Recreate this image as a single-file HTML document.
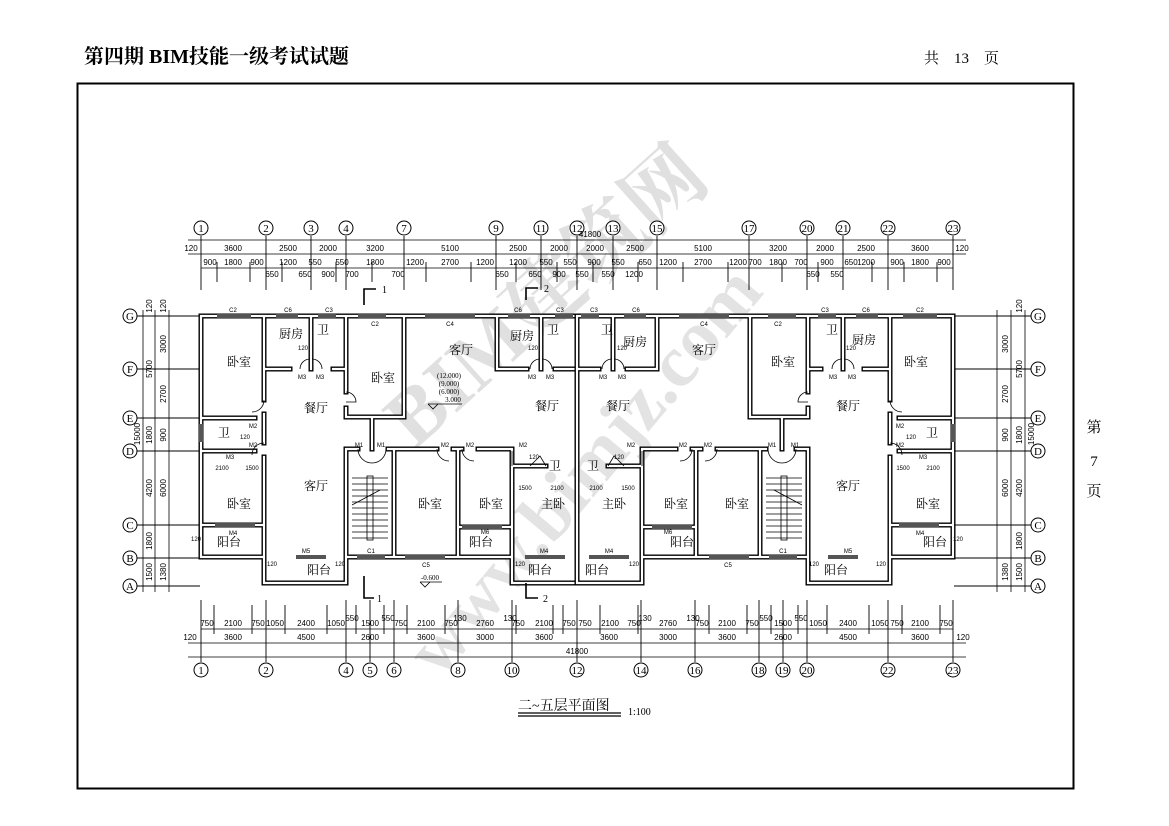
<!DOCTYPE html>
<html><head><meta charset="utf-8"><style>
body{margin:0;background:#fff;}
svg{display:block;}
text{font-family:"Liberation Serif","Noto Serif CJK SC",serif;fill:#000;}
.r{font-size:12px;text-anchor:middle;}
.d{font-size:8px;text-anchor:middle;font-family:"Liberation Sans",sans-serif;}
.s{font-size:6px;text-anchor:middle;font-family:"Liberation Sans",sans-serif;}
.ax{font-size:11px;text-anchor:middle;font-family:"Liberation Serif",serif;}
</style></head><body>
<svg width="1169" height="826" viewBox="0 0 1169 826" xmlns="http://www.w3.org/2000/svg">
<rect width="1169" height="826" fill="#fff"/>
<!-- watermark -->
<g font-family="Liberation Sans,'Noto Sans CJK SC',sans-serif" font-weight="bold">
<text x="0" y="0" font-size="80" transform="translate(415,450) rotate(-42)" style="fill:#e0e0e0">BIM建筑网</text>
<text x="0" y="0" font-size="74" transform="translate(440,680) rotate(-50)" style="fill:#e3e3e3">www.bimjz.com</text>
</g>
<text x="84" y="63" font-size="20" font-weight="bold" style="font-family:'Liberation Serif','Noto Serif CJK SC',serif">第四期 BIM技能一级考试试题</text>
<text x="924" y="63" font-size="15">共　13　页</text>
<rect x="77.5" y="83.5" width="996" height="705" fill="none" stroke="#000" stroke-width="2"/>
<text x="1094" y="432" font-size="15" text-anchor="middle">第</text>
<text x="1094" y="466" font-size="15" text-anchor="middle">7</text>
<text x="1094" y="496" font-size="15" text-anchor="middle">页</text>

<g stroke="#000" stroke-width="0.8" fill="none">
<line x1="188" y1="240" x2="966" y2="240"/>
<line x1="188" y1="254" x2="966" y2="254"/>
<line x1="201" y1="268" x2="953" y2="268"/>
<line x1="188" y1="643" x2="966" y2="643"/>
<line x1="201" y1="629" x2="953" y2="629"/>
<line x1="188" y1="657" x2="966" y2="657"/>
<line x1="143" y1="310" x2="143" y2="592"/>
<line x1="155" y1="310" x2="155" y2="592"/>
<line x1="169" y1="310" x2="169" y2="592"/>
<line x1="1011" y1="310" x2="1011" y2="592"/>
<line x1="997" y1="310" x2="997" y2="592"/>
<line x1="1025" y1="310" x2="1025" y2="592"/>
</g>
<g stroke="#000" stroke-width="0.9">
<path d="M201 236V290M266 236V290M311 236V290M346 236V290M404 236V290M496 236V290M541 236V290M577 236V290M613 236V290M657 236V290M749 236V290M807 236V290M843 236V290M888 236V290M953 236V290"/>
<path d="M217 262V282M250 262V282M282 262V282M336 262V282M372 262V282M426 262V282M471 262V282M516 262V282M557 262V282M593 262V282M638 262V282M683 262V282M728 262V282M782 262V282M818 262V282M872 262V282M904 262V282M937 262V282"/>
<path d="M201 600V662M266 600V662M346 600V662M370 600V662M394 600V662M458 600V662M512 600V662M577 600V662M641 600V662M695 600V662M759 600V662M783 600V662M807 600V662M888 600V662M953 600V662"/>
<path d="M214 605V634M252 605V634M285 605V634M327 605V634M356 605V634M384 605V634M407 605V634M445 605V634M516 605V634M553 605V634M563 605V634M600 605V634M638 605V634M709 605V634M747 605V634M771 605V634M798 605V634M827 605V634M869 605V634M902 605V634M940 605V634"/>
<path d="M137 316H200M137 369H200M137 418H200M137 451H200M137 525H200M137 558H200M137 586H200"/>
<path d="M954 316H1031M954 369H1031M954 418H1031M954 451H1031M954 525H1031M954 558H1031M954 586H1031"/>
</g>
<g fill="#fff" stroke="#000" stroke-width="1">
<circle cx="201" cy="228" r="7"/><circle cx="266" cy="228" r="7"/><circle cx="311" cy="228" r="7"/><circle cx="346" cy="228" r="7"/><circle cx="404" cy="228" r="7"/><circle cx="496" cy="228" r="7"/><circle cx="541" cy="228" r="7"/><circle cx="577" cy="228" r="7"/><circle cx="613" cy="228" r="7"/><circle cx="657" cy="228" r="7"/><circle cx="749" cy="228" r="7"/><circle cx="807" cy="228" r="7"/><circle cx="843" cy="228" r="7"/><circle cx="888" cy="228" r="7"/><circle cx="953" cy="228" r="7"/>
<circle cx="201" cy="670" r="7"/><circle cx="266" cy="670" r="7"/><circle cx="346" cy="670" r="7"/><circle cx="370" cy="670" r="7"/><circle cx="394" cy="670" r="7"/><circle cx="458" cy="670" r="7"/><circle cx="512" cy="670" r="7"/><circle cx="577" cy="670" r="7"/><circle cx="641" cy="670" r="7"/><circle cx="695" cy="670" r="7"/><circle cx="759" cy="670" r="7"/><circle cx="783" cy="670" r="7"/><circle cx="807" cy="670" r="7"/><circle cx="888" cy="670" r="7"/><circle cx="953" cy="670" r="7"/>
<circle cx="130" cy="316" r="7"/><circle cx="130" cy="369" r="7"/><circle cx="130" cy="418" r="7"/><circle cx="130" cy="451" r="7"/><circle cx="130" cy="525" r="7"/><circle cx="130" cy="558" r="7"/><circle cx="130" cy="586" r="7"/>
<circle cx="1038" cy="316" r="7"/><circle cx="1038" cy="369" r="7"/><circle cx="1038" cy="418" r="7"/><circle cx="1038" cy="451" r="7"/><circle cx="1038" cy="525" r="7"/><circle cx="1038" cy="558" r="7"/><circle cx="1038" cy="586" r="7"/>
</g>
<g>
<text class="ax" x="201" y="232">1</text><text class="ax" x="266" y="232">2</text><text class="ax" x="311" y="232">3</text><text class="ax" x="346" y="232">4</text><text class="ax" x="404" y="232">7</text><text class="ax" x="496" y="232">9</text><text class="ax" x="541" y="232">11</text><text class="ax" x="577" y="232">12</text><text class="ax" x="613" y="232">13</text><text class="ax" x="657" y="232">15</text><text class="ax" x="749" y="232">17</text><text class="ax" x="807" y="232">20</text><text class="ax" x="843" y="232">21</text><text class="ax" x="888" y="232">22</text><text class="ax" x="953" y="232">23</text>
<text class="ax" x="201" y="674">1</text><text class="ax" x="266" y="674">2</text><text class="ax" x="346" y="674">4</text><text class="ax" x="370" y="674">5</text><text class="ax" x="394" y="674">6</text><text class="ax" x="458" y="674">8</text><text class="ax" x="512" y="674">10</text><text class="ax" x="577" y="674">12</text><text class="ax" x="641" y="674">14</text><text class="ax" x="695" y="674">16</text><text class="ax" x="759" y="674">18</text><text class="ax" x="783" y="674">19</text><text class="ax" x="807" y="674">20</text><text class="ax" x="888" y="674">22</text><text class="ax" x="953" y="674">23</text>
<text class="ax" x="130" y="320">G</text><text class="ax" x="130" y="373">F</text><text class="ax" x="130" y="422">E</text><text class="ax" x="130" y="455">D</text><text class="ax" x="130" y="529">C</text><text class="ax" x="130" y="562">B</text><text class="ax" x="130" y="590">A</text>
<text class="ax" x="1038" y="320">G</text><text class="ax" x="1038" y="373">F</text><text class="ax" x="1038" y="422">E</text><text class="ax" x="1038" y="455">D</text><text class="ax" x="1038" y="529">C</text><text class="ax" x="1038" y="562">B</text><text class="ax" x="1038" y="590">A</text>
</g>
<g>
<text class="d" x="590" y="237">41800</text>
<text class="d" x="191" y="251">120</text><text class="d" x="233" y="251">3600</text><text class="d" x="288" y="251">2500</text><text class="d" x="328" y="251">2000</text><text class="d" x="375" y="251">3200</text><text class="d" x="450" y="251">5100</text><text class="d" x="518" y="251">2500</text><text class="d" x="559" y="251">2000</text><text class="d" x="595" y="251">2000</text><text class="d" x="635" y="251">2500</text><text class="d" x="703" y="251">5100</text><text class="d" x="778" y="251">3200</text><text class="d" x="825" y="251">2000</text><text class="d" x="866" y="251">2500</text><text class="d" x="920" y="251">3600</text><text class="d" x="962" y="251">120</text>
<text class="d" x="210" y="265">900</text><text class="d" x="233" y="265">1800</text><text class="d" x="257" y="265">900</text><text class="d" x="288" y="265">1200</text><text class="d" x="315" y="265">550</text><text class="d" x="342" y="265">550</text><text class="d" x="375" y="265">1800</text><text class="d" x="415" y="265">1200</text><text class="d" x="450" y="265">2700</text><text class="d" x="485" y="265">1200</text><text class="d" x="518" y="265">1200</text><text class="d" x="546" y="265">550</text><text class="d" x="570" y="265">550</text><text class="d" x="594" y="265">900</text><text class="d" x="618" y="265">550</text><text class="d" x="645" y="265">650</text><text class="d" x="668" y="265">1200</text><text class="d" x="703" y="265">2700</text><text class="d" x="738" y="265">1200</text><text class="d" x="755" y="265">700</text><text class="d" x="778" y="265">1800</text><text class="d" x="801" y="265">700</text><text class="d" x="827" y="265">900</text><text class="d" x="851" y="265">650</text><text class="d" x="866" y="265">1200</text><text class="d" x="897" y="265">900</text><text class="d" x="920" y="265">1800</text><text class="d" x="944" y="265">900</text>
<text class="d" x="272" y="277">650</text><text class="d" x="305" y="277">650</text><text class="d" x="328" y="277">900</text><text class="d" x="352" y="277">700</text><text class="d" x="398" y="277">700</text><text class="d" x="502" y="277">650</text><text class="d" x="535" y="277">650</text><text class="d" x="559" y="277">900</text><text class="d" x="582" y="277">550</text><text class="d" x="608" y="277">550</text><text class="d" x="634" y="277">1200</text><text class="d" x="813" y="277">650</text><text class="d" x="837" y="277">550</text>
<text class="d" x="207" y="626">750</text><text class="d" x="233" y="626">2100</text><text class="d" x="258" y="626">750</text><text class="d" x="275" y="626">1050</text><text class="d" x="306" y="626">2400</text><text class="d" x="336" y="626">1050</text><text class="d" x="352" y="621">550</text><text class="d" x="370" y="626">1500</text><text class="d" x="388" y="621">550</text><text class="d" x="401" y="626">750</text><text class="d" x="426" y="626">2100</text><text class="d" x="451" y="626">750</text><text class="d" x="460" y="621">130</text><text class="d" x="485" y="626">2760</text><text class="d" x="510" y="621">130</text><text class="d" x="518" y="626">750</text><text class="d" x="544" y="626">2100</text><text class="d" x="569" y="626">750</text><text class="d" x="585" y="626">750</text><text class="d" x="610" y="626">2100</text><text class="d" x="634" y="626">750</text><text class="d" x="645" y="621">130</text><text class="d" x="668" y="626">2760</text><text class="d" x="693" y="621">130</text><text class="d" x="702" y="626">750</text><text class="d" x="727" y="626">2100</text><text class="d" x="752" y="626">750</text><text class="d" x="766" y="621">550</text><text class="d" x="783" y="626">1500</text><text class="d" x="801" y="621">550</text><text class="d" x="818" y="626">1050</text><text class="d" x="848" y="626">2400</text><text class="d" x="880" y="626">1050</text><text class="d" x="897" y="626">750</text><text class="d" x="920" y="626">2100</text><text class="d" x="946" y="626">750</text>
<text class="d" x="190" y="640">120</text><text class="d" x="233" y="640">3600</text><text class="d" x="306" y="640">4500</text><text class="d" x="370" y="640">2600</text><text class="d" x="426" y="640">3600</text><text class="d" x="485" y="640">3000</text><text class="d" x="544" y="640">3600</text><text class="d" x="609" y="640">3600</text><text class="d" x="668" y="640">3000</text><text class="d" x="727" y="640">3600</text><text class="d" x="783" y="640">2600</text><text class="d" x="848" y="640">4500</text><text class="d" x="920" y="640">3600</text><text class="d" x="963" y="640">120</text>
<text class="d" x="577" y="654">41800</text>
</g>
<g>
<text class="d" transform="translate(166,344) rotate(-90)">3000</text>
<text class="d" transform="translate(166,394) rotate(-90)">2700</text>
<text class="d" transform="translate(166,435) rotate(-90)">900</text>
<text class="d" transform="translate(166,488) rotate(-90)">6000</text>
<text class="d" transform="translate(166,572) rotate(-90)">1380</text>
<text class="d" transform="translate(152,369) rotate(-90)">5700</text>
<text class="d" transform="translate(152,435) rotate(-90)">1800</text>
<text class="d" transform="translate(152,488) rotate(-90)">4200</text>
<text class="d" transform="translate(152,541) rotate(-90)">1800</text>
<text class="d" transform="translate(152,572) rotate(-90)">1500</text>
<text class="d" transform="translate(140,434) rotate(-90)">15000</text>
<text class="d" transform="translate(152,306) rotate(-90)">120</text>
<text class="d" transform="translate(166,306) rotate(-90)">120</text>
<text class="d" transform="translate(1008,344) rotate(-90)">3000</text>
<text class="d" transform="translate(1008,394) rotate(-90)">2700</text>
<text class="d" transform="translate(1008,435) rotate(-90)">900</text>
<text class="d" transform="translate(1008,488) rotate(-90)">6000</text>
<text class="d" transform="translate(1008,572) rotate(-90)">1380</text>
<text class="d" transform="translate(1022,369) rotate(-90)">5700</text>
<text class="d" transform="translate(1022,435) rotate(-90)">1800</text>
<text class="d" transform="translate(1022,488) rotate(-90)">4200</text>
<text class="d" transform="translate(1022,541) rotate(-90)">1800</text>
<text class="d" transform="translate(1022,572) rotate(-90)">1500</text>
<text class="d" transform="translate(1034,434) rotate(-90)">15000</text>
<text class="d" transform="translate(1022,306) rotate(-90)">120</text>
</g>

<defs>
<path id="w" fill="none" d="M201 316H577M201 316V557H264M264 316V400M264 414V443M264 457V583H346V557M201 418H255M201 451H255M201 525H264M266 369H290M333 369H346M311 316V369M346 316V392M346 408V417H404M404 316V417M372 417V449M346 449H358M388 449H437M453 449H462M478 449H512M346 449V557M394 449V557M458 449V557M512 449V583H577M458 527H512M497 316V369H527M555 369H577M541 316V369M512 466H546M577 316V583M346 557H512"/>
<g id="half">
<use href="#w" stroke="#000" stroke-width="5" stroke-linecap="square"/>
<use href="#w" stroke="#fff" stroke-width="2.2" stroke-linecap="square"/>
<g fill="#555">
<rect x="217" y="314" width="34" height="4"/><rect x="276" y="314" width="22" height="4"/><rect x="318" y="314" width="18" height="4"/><rect x="358" y="314" width="28" height="4"/><rect x="425" y="314" width="50" height="4"/><rect x="508" y="314" width="22" height="4"/><rect x="555" y="314" width="18" height="4"/>
<rect x="296" y="555" width="30" height="4"/><rect x="357" y="555" width="28" height="4"/><rect x="405" y="555" width="40" height="4"/><rect x="462" y="525" width="40" height="4"/><rect x="525" y="555" width="40" height="4"/><rect x="215" y="523" width="40" height="4"/><rect x="199" y="424" width="4" height="18"/>
</g>
<g fill="none" stroke="#000" stroke-width="0.8">
<path d="M300 369A10 10 0 0 1 310 359M322 369A10 10 0 0 0 312 359M346 392A10 10 0 0 1 356 402H346M264 400A12 12 0 0 1 252 412M264 443A12 12 0 0 0 252 455M358 449A14 14 0 0 0 372 463M386 449A14 14 0 0 1 372 463M437 449A12 12 0 0 0 449 461M462 449A12 12 0 0 0 474 461M530 369A10 10 0 0 1 540 359M552 369A10 10 0 0 0 542 359"/>
<path d="M352 478H388M352 484H388M352 490H388M352 496H388M352 502H388M352 508H388M352 514H388M352 520H388M352 526H388M352 532H388M352 538H388"/>
<rect x="367" y="476" width="6" height="64"/>
<path d="M352 505L380 490"/>
<path d="M512 466V451M530 466L540 456L546 466"/>
</g>
</g>
</defs>
<use href="#half"/>
<use href="#half" transform="matrix(-1,0,0,1,1154,0)"/>

<g stroke="#000" stroke-width="1.6" fill="none">
<path d="M364 305V289H376M526 300V288H538M364 576V598H374M526 583V598H538"/>
</g>
<text x="382" y="293" font-size="10">1</text><text x="544" y="292" font-size="10">2</text>
<text x="377" y="602" font-size="10">1</text><text x="543" y="602" font-size="10">2</text>
<g font-size="7" font-family="Liberation Sans,sans-serif" text-anchor="middle">
<text x="449" y="378">(12.000)</text><text x="449" y="386">(9.000)</text><text x="449" y="394">(6.000)</text><text x="453" y="402">3.000</text>
<text x="430" y="580">-0.600</text>
</g>
<path d="M428 404h34M428 404l5 5 5-5" stroke="#000" fill="none" stroke-width="0.8"/>
<path d="M420 582h22M420 582l5 5 5-5" stroke="#000" fill="none" stroke-width="0.8"/>

<g>
<text class="s" x="233" y="312">C2</text><text class="s" x="288" y="312">C6</text><text class="s" x="329" y="312">C3</text><text class="s" x="375" y="326">C2</text><text class="s" x="450" y="326">C4</text><text class="s" x="518" y="312">C6</text><text class="s" x="560" y="312">C3</text>
<text class="s" x="594" y="312">C3</text><text class="s" x="636" y="312">C6</text><text class="s" x="704" y="326">C4</text><text class="s" x="778" y="326">C2</text><text class="s" x="825" y="312">C3</text><text class="s" x="866" y="312">C6</text><text class="s" x="920" y="312">C2</text>
<text class="s" x="302" y="379">M3</text><text class="s" x="320" y="379">M3</text><text class="s" x="532" y="379">M3</text><text class="s" x="550" y="379">M3</text><text class="s" x="603" y="379">M3</text><text class="s" x="622" y="379">M3</text><text class="s" x="833" y="379">M3</text><text class="s" x="852" y="379">M3</text>
<text class="s" x="253" y="428">M2</text><text class="s" x="253" y="447">M2</text><text class="s" x="230" y="459">M3</text><text class="s" x="359" y="447">M1</text><text class="s" x="381" y="447">M1</text><text class="s" x="445" y="447">M2</text><text class="s" x="470" y="447">M2</text><text class="s" x="523" y="447">M2</text>
<text class="s" x="631" y="447">M2</text><text class="s" x="683" y="447">M2</text><text class="s" x="708" y="447">M2</text><text class="s" x="772" y="447">M1</text><text class="s" x="795" y="447">M1</text><text class="s" x="900" y="428">M2</text><text class="s" x="900" y="447">M2</text><text class="s" x="923" y="459">M3</text>
<text class="s" x="233" y="535">M4</text><text class="s" x="306" y="553">M5</text><text class="s" x="371" y="553">C1</text><text class="s" x="426" y="567">C5</text><text class="s" x="485" y="534">M6</text><text class="s" x="544" y="553">M4</text>
<text class="s" x="609" y="553">M4</text><text class="s" x="668" y="534">M6</text><text class="s" x="728" y="567">C5</text><text class="s" x="783" y="553">C1</text><text class="s" x="848" y="553">M5</text><text class="s" x="920" y="535">M4</text>
<text class="s" x="303" y="350">120</text><text class="s" x="533" y="350">120</text><text class="s" x="622" y="350">120</text><text class="s" x="851" y="350">120</text>
<text class="s" x="245" y="439">120</text><text class="s" x="911" y="439">120</text>
<text class="s" x="222" y="470">2100</text><text class="s" x="252" y="470">1500</text><text class="s" x="903" y="470">1500</text><text class="s" x="933" y="470">2100</text>
<text class="s" x="525" y="490">1500</text><text class="s" x="557" y="490">2100</text><text class="s" x="596" y="490">2100</text><text class="s" x="628" y="490">1500</text>
<text class="s" x="196" y="541">120</text><text class="s" x="272" y="566">120</text><text class="s" x="340" y="566">120</text><text class="s" x="520" y="566">120</text><text class="s" x="634" y="566">120</text><text class="s" x="814" y="566">120</text><text class="s" x="881" y="566">120</text><text class="s" x="958" y="541">120</text><text class="s" x="534" y="459">120</text><text class="s" x="619" y="459">120</text>
</g>
<g>
<text class="r" x="239" y="366">卧室</text><text class="r" x="291" y="338">厨房</text><text class="r" x="323" y="334">卫</text><text class="r" x="383" y="382">卧室</text><text class="r" x="461" y="354">客厅</text><text class="r" x="316" y="412">餐厅</text><text class="r" x="522" y="340">厨房</text><text class="r" x="553" y="334">卫</text><text class="r" x="547" y="410">餐厅</text><text class="r" x="224" y="437">卫</text><text class="r" x="239" y="508">卧室</text><text class="r" x="316" y="490">客厅</text><text class="r" x="430" y="508">卧室</text><text class="r" x="491" y="508">卧室</text><text class="r" x="553" y="508">主卧</text><text class="r" x="229" y="546">阳台</text><text class="r" x="319" y="574">阳台</text><text class="r" x="481" y="546">阳台</text><text class="r" x="540" y="574">阳台</text><text class="r" x="555" y="470">卫</text>
<text class="r" x="916" y="366">卧室</text><text class="r" x="864" y="344">厨房</text><text class="r" x="832" y="334">卫</text><text class="r" x="783" y="366">卧室</text><text class="r" x="704" y="354">客厅</text><text class="r" x="848" y="410">餐厅</text><text class="r" x="635" y="346">厨房</text><text class="r" x="607" y="334">卫</text><text class="r" x="618" y="410">餐厅</text><text class="r" x="932" y="437">卫</text><text class="r" x="928" y="508">卧室</text><text class="r" x="848" y="490">客厅</text><text class="r" x="676" y="508">卧室</text><text class="r" x="737" y="508">卧室</text><text class="r" x="614" y="508">主卧</text><text class="r" x="935" y="546">阳台</text><text class="r" x="836" y="574">阳台</text><text class="r" x="682" y="546">阳台</text><text class="r" x="597" y="574">阳台</text><text class="r" x="593" y="470">卫</text>
</g>
<text x="518" y="710" font-size="14">二~五层平面图</text>
<line x1="518" y1="713" x2="621" y2="713" stroke="#000" stroke-width="1.2"/>
<line x1="518" y1="716" x2="621" y2="716" stroke="#000" stroke-width="1.2"/>
<text x="628" y="715" font-size="10">1:100</text>
</svg>
</body></html>
